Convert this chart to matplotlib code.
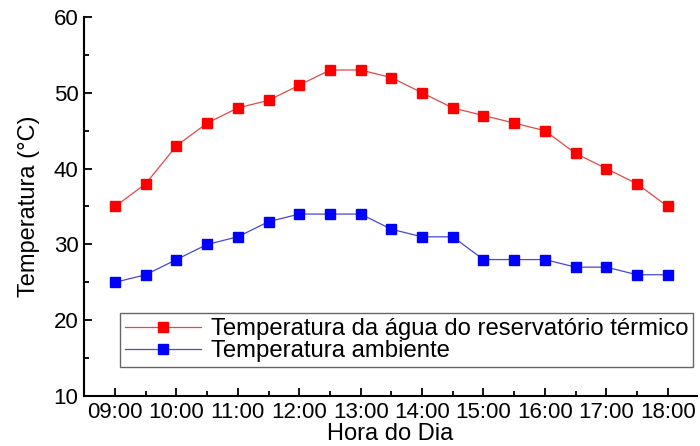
import matplotlib
matplotlib.use("Agg")
import matplotlib.pyplot as plt
from matplotlib.ticker import MultipleLocator

plt.rcParams['font.family'] = ['Liberation Sans', 'DejaVu Sans']

# horas do dia (09:00 ate 18:00, a cada 30 min)
hours = [9 + 0.5 * i for i in range(19)]
tick_labels = ["09:00", "10:00", "11:00", "12:00", "13:00", "14:00",
               "15:00", "16:00", "17:00", "18:00"]
temp_agua = [35, 38, 43, 46, 48, 49, 51, 53, 53, 52, 50, 48, 47, 46, 45, 42, 40, 38, 35]
temp_amb = [25, 26, 28, 30, 31, 33, 34, 34, 34, 32, 31, 31, 28, 28, 28, 27, 27, 26, 26]

fig = plt.figure(figsize=(7, 4.46), dpi=100)
ax = fig.add_axes([0.12, 0.112, 0.876, 0.85])

ax.plot(hours, temp_agua, color="#e04848", lw=0.9, marker="s", ms=7.5,
        mfc="#ff0000", mec="#ff0000",
        label="Temperatura da água do reservatório térmico")
ax.plot(hours, temp_amb, color="#4848d0", lw=0.9, marker="s", ms=7.5,
        mfc="#0000ff", mec="#0000ff", label="Temperatura ambiente")

ax.set_xlim(8.495, 18.48)
ax.set_ylim(10, 60)
ax.set_xticks(range(9, 19))
ax.set_xticklabels(tick_labels)
ax.xaxis.set_minor_locator(MultipleLocator(0.5))
ax.yaxis.set_major_locator(MultipleLocator(10))
ax.yaxis.set_minor_locator(MultipleLocator(5))

for s in ["top", "right"]:
    ax.spines[s].set_visible(False)
for s in ["left", "bottom"]:
    ax.spines[s].set_linewidth(1.5)

ax.tick_params(which="major", direction="in", length=6, width=1.3, labelsize=16, pad=4)
ax.tick_params(which="minor", direction="in", length=3.5, width=1.3)

ax.set_xlabel("Hora do Dia", fontsize=17, labelpad=0.5)
ax.set_ylabel("Temperatura (°C)", fontsize=17, labelpad=10)

leg = ax.legend(loc="lower left", bbox_to_anchor=(0.059, 0.077), fontsize=17.2,
                frameon=True, fancybox=False, edgecolor="#404040",
                handlelength=3.2, borderpad=0.2, labelspacing=0.0,
                handletextpad=0.4, borderaxespad=0)
leg.get_frame().set_linewidth(1.0)

fig.savefig("out.png", dpi=100)
